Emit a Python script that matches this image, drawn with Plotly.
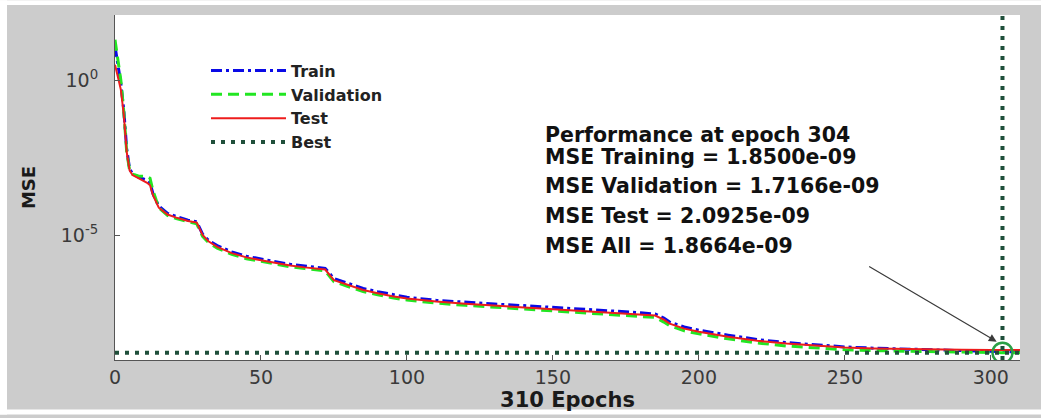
import plotly.graph_objects as go
import math

# ---------------- data ----------------
epochs = [0, 2, 3, 4, 5, 6, 8, 10, 11, 12, 13, 15, 18, 21, 25, 28, 30, 32, 35, 40,
          45, 50, 55, 60, 65, 70, 72, 75, 80, 85, 90, 95, 100, 110, 120, 130, 140,
          150, 160, 170, 180, 185, 188, 190, 195, 200, 210, 220, 230, 240, 250, 260,
          270, 280, 290, 300, 304, 310]

train_mse = [1.26e1, 7.94e-1, 1.12e-1, 6.31e-3, 1.41e-3, 1.00e-3, 7.59e-4, 6.31e-4, 6.03e-4, 5.01e-4,
             2.24e-4, 8.91e-5, 5.25e-5, 4.17e-5, 3.16e-5, 2.82e-5, 1.12e-5, 7.08e-6, 4.79e-6, 3.02e-6,
             2.19e-6, 1.78e-6, 1.45e-6, 1.20e-6, 1.05e-6, 9.55e-7, 8.91e-7, 4.17e-7, 2.82e-7, 2.00e-7,
             1.58e-7, 1.26e-7, 1.05e-7, 8.32e-8, 7.08e-8, 6.31e-8, 5.62e-8, 5.01e-8, 4.37e-8, 3.80e-8,
             3.31e-8, 3.02e-8, 2.24e-8, 1.66e-8, 1.15e-8, 9.12e-9, 6.31e-9, 4.57e-9, 3.63e-9, 3.02e-9,
             2.63e-9, 2.40e-9, 2.24e-9, 2.09e-9, 1.95e-9, 1.86e-9, 1.85e-9, 1.82e-9]

val_mse = [2.00e1, 1.00e0, 1.00e-1, 5.01e-3, 1.26e-3, 9.55e-4, 8.32e-4, 7.94e-4, 7.94e-4, 7.08e-4,
           2.82e-4, 7.94e-5, 4.47e-5, 3.55e-5, 2.82e-5, 2.40e-5, 9.55e-6, 6.03e-6, 3.98e-6, 2.51e-6,
           1.82e-6, 1.48e-6, 1.20e-6, 1.00e-6, 8.71e-7, 7.94e-7, 7.41e-7, 3.31e-7, 2.24e-7, 1.58e-7,
           1.26e-7, 1.00e-7, 8.51e-8, 6.76e-8, 5.75e-8, 5.01e-8, 4.47e-8, 3.98e-8, 3.47e-8, 3.02e-8,
           2.51e-8, 2.34e-8, 1.66e-8, 1.26e-8, 8.71e-9, 6.92e-9, 4.79e-9, 3.55e-9, 2.82e-9, 2.40e-9,
           2.14e-9, 2.00e-9, 1.91e-9, 1.82e-9, 1.76e-9, 1.73e-9, 1.7166e-9, 1.70e-9]

test_mse = [3.16e0, 5.01e-1, 7.94e-2, 5.01e-3, 1.26e-3, 8.91e-4, 7.08e-4, 5.62e-4, 5.01e-4, 4.17e-4,
            2.00e-4, 7.94e-5, 4.79e-5, 3.80e-5, 2.95e-5, 2.63e-5, 1.05e-5, 6.61e-6, 4.37e-6, 2.75e-6,
            2.00e-6, 1.62e-6, 1.32e-6, 1.10e-6, 9.55e-7, 8.71e-7, 8.13e-7, 3.72e-7, 2.51e-7, 1.78e-7,
            1.41e-7, 1.12e-7, 9.55e-8, 7.59e-8, 6.46e-8, 5.62e-8, 5.01e-8, 4.47e-8, 3.89e-8, 3.39e-8,
            2.88e-8, 2.69e-8, 2.00e-8, 1.48e-8, 1.02e-8, 8.13e-9, 5.62e-9, 4.17e-9, 3.39e-9, 2.88e-9,
            2.51e-9, 2.34e-9, 2.24e-9, 2.16e-9, 2.13e-9, 2.10e-9, 2.0925e-9, 2.09e-9]

best_epoch = 304
best_val = 1.7166e-9
total_epochs = 310

x_ticks = [0, 50, 100, 150, 200, 250, 300]
y_ticks = [1e0, 1e-5]
y_tick_labels = ["10<sup>0</sup>", "10<sup>-5</sup>"]

perf_lines = [
    "Performance at epoch 304",
    "MSE Training = 1.8500e-09",
    "MSE Validation = 1.7166e-09",
    "MSE Test = 2.0925e-09",
    "MSE All = 1.8664e-09",
]

# ---------------- layout constants ----------------
W, H = 1041, 418
ML, MR, MT, MB = 115, 21, 15, 55
PW, PH = W - ML - MR, H - MT - MB
FONT = "DejaVu Sans"
BG = "#cccccc"
BEST_COLOR = "#1f4f3a"


def px_to_paper_x(px):
    return (px - ML) / PW


def px_to_paper_y(py):
    return (H - MB - py) / PH


fig = go.Figure()

fig.add_trace(go.Scatter(x=epochs, y=train_mse, mode="lines", name="Train",
                         line=dict(color="#0a0ae6", width=3, dash="11px,4px,3px,4px")))
fig.add_trace(go.Scatter(x=epochs, y=val_mse, mode="lines", name="Validation",
                         line=dict(color="#22e622", width=3, dash="11px,6px")))
fig.add_trace(go.Scatter(x=epochs, y=test_mse, mode="lines", name="Test",
                         line=dict(color="#ee1c1c", width=2)))
# legend entry for Best (lines drawn via hline/vline)
fig.add_trace(go.Scatter(x=[None], y=[None], mode="lines", name="Best",
                         line=dict(color=BEST_COLOR, width=4, dash="4px,6px")))

fig.add_hline(y=best_val, line=dict(color=BEST_COLOR, width=4, dash="4px,6px"))
fig.add_vline(x=best_epoch, line=dict(color=BEST_COLOR, width=4, dash="4px,6px"))

fig.add_trace(go.Scatter(x=[best_epoch], y=[best_val], mode="markers", showlegend=False,
                         marker=dict(symbol="circle-open", size=20, color="#2aa046",
                                     line=dict(width=2.5, color="#2aa046"))))

# performance text
text_centers = [136, 158, 187, 217.5, 248]
for txt, cy in zip(perf_lines, text_centers):
    fig.add_annotation(text="<b>" + txt + "</b>", xref="paper", yref="paper",
                       x=px_to_paper_x(543), y=px_to_paper_y(cy),
                       xanchor="left", yanchor="middle", showarrow=False,
                       font=dict(family=FONT, size=20.5, color="#111111"))

# arrow to best point (log axis -> log10 coordinates)
fig.add_annotation(x=302, y=math.log10(3.9e-9), xref="x", yref="y", text="",
                   showarrow=True, ax=-129, ay=-76, arrowhead=2, arrowsize=1.3,
                   arrowwidth=1.2, arrowcolor="#3a3a3a")

# white border strips of the picture
x_left = px_to_paper_x(0)
x_right = px_to_paper_x(W)
y_top = px_to_paper_y(0)
y_bot = px_to_paper_y(H)
strips = [
    (x_left, y_bot, px_to_paper_x(7), y_top),
    (x_left, px_to_paper_y(5), x_right, y_top),
    (x_left, y_bot, x_right, px_to_paper_y(413)),
]
for x0, y0, x1, y1 in strips:
    fig.add_shape(type="rect", xref="paper", yref="paper", x0=x0, y0=y0, x1=x1, y1=y1,
                  fillcolor="white", line=dict(width=0), layer="below")

fig.update_layout(
    width=W, height=H,
    margin=dict(l=ML, r=MR, t=MT, b=MB, pad=0),
    paper_bgcolor=BG, plot_bgcolor="white",
    font=dict(family=FONT, color="#333333"),
    showlegend=True,
    legend=dict(x=px_to_paper_x(206), y=px_to_paper_y(54), xanchor="left", yanchor="top",
                bgcolor="rgba(0,0,0,0)", borderwidth=0, itemwidth=75,
                font=dict(family=FONT, size=16, color="#222222", weight="bold"),
                tracegroupgap=0),
    xaxis=dict(range=[0, total_epochs], tickvals=x_ticks, ticks="inside", ticklen=5,
               tickcolor="#555555", showline=True, linecolor="#555555", linewidth=1,
               showgrid=False, zeroline=False, mirror=False,
               tickfont=dict(family=FONT, size=19, color="#3a3a3a"),
               title=dict(text="<b>310 Epochs</b>", standoff=4,
                          font=dict(family=FONT, size=21, color="#1a1a1a"))),
    yaxis=dict(type="log", range=[-9.0, 2.1], tickvals=y_ticks, ticktext=y_tick_labels,
               ticks="inside", ticklen=5, tickcolor="#555555", showline=True,
               linecolor="#555555", linewidth=1, showgrid=False, zeroline=False,
               ticklabelstandoff=12,
               tickfont=dict(family=FONT, size=19, color="#3a3a3a"),
               title=dict(text="<b>MSE</b>", standoff=20,
                          font=dict(family=FONT, size=18, color="#1a1a1a"))),
)

fig.write_html("out.html")
